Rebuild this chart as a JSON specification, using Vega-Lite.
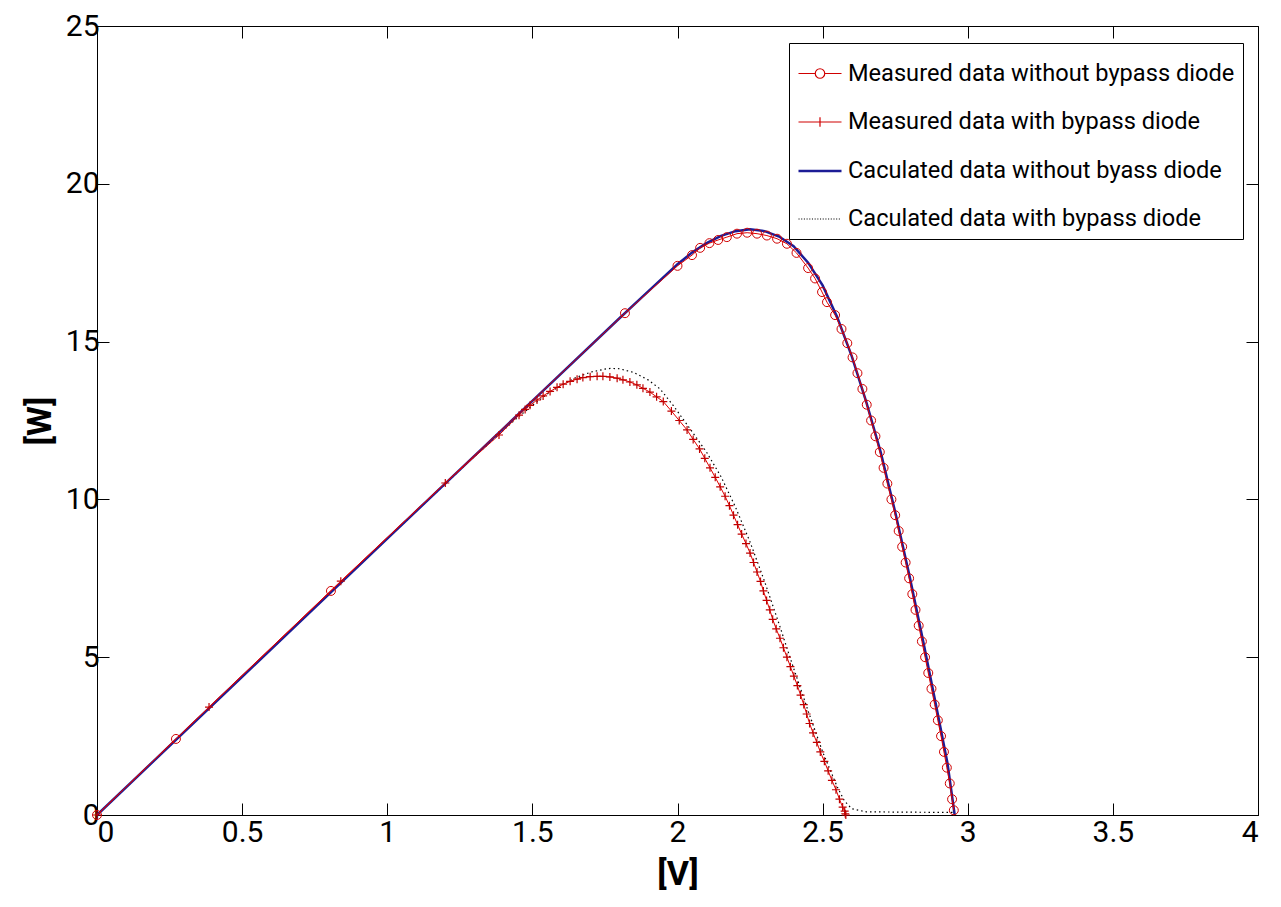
{
  "$schema": "https://vega.github.io/schema/vega-lite/v6.json",
  "width": 1161,
  "height": 789,
  "autosize": {"type": "none"},
  "padding": {"left": 97, "top": 26, "right": 23, "bottom": 92},
  "background": "white",
  "config": {
    "view": {"stroke": "black", "strokeWidth": 1},
    "axis": {
      "labelFont": "Roboto",
      "labelFontSize": 30,
      "labelColor": "black",
      "titleFont": "Roboto",
      "titleFontSize": 34,
      "titleFontWeight": "bold",
      "titleColor": "black",
      "domainColor": "black",
      "tickColor": "black",
      "tickSize": -12,
      "grid": false
    },
    "legend": {
      "orient": "none",
      "legendX": 692,
      "legendY": 17,
      "fillColor": "white",
      "strokeColor": "black",
      "padding": 8,
      "rowPadding": 13.5,
      "symbolSize": 1850,
      "symbolStrokeWidth": 1.2,
      "symbolOpacity": 1,
      "labelOffset": 5,
      "labelFont": "Roboto",
      "labelFontSize": 23.6,
      "labelColor": "black",
      "labelLimit": 600,
      "title": null
    }
  },
  "datasets": {
    "A": [
      {"series": "Measured data without bypass diode", "v": 0, "p": 0},
      {"series": "Measured data without bypass diode", "v": 0.272, "p": 2.41},
      {"series": "Measured data without bypass diode", "v": 0.806, "p": 7.1},
      {"series": "Measured data without bypass diode", "v": 1.819, "p": 15.9},
      {"series": "Measured data without bypass diode", "v": 2.0, "p": 17.4},
      {"series": "Measured data without bypass diode", "v": 2.05, "p": 17.74},
      {"series": "Measured data without bypass diode", "v": 2.078, "p": 17.97},
      {"series": "Measured data without bypass diode", "v": 2.11, "p": 18.12},
      {"series": "Measured data without bypass diode", "v": 2.14, "p": 18.22},
      {"series": "Measured data without bypass diode", "v": 2.17, "p": 18.31},
      {"series": "Measured data without bypass diode", "v": 2.205, "p": 18.42},
      {"series": "Measured data without bypass diode", "v": 2.24, "p": 18.45},
      {"series": "Measured data without bypass diode", "v": 2.274, "p": 18.42},
      {"series": "Measured data without bypass diode", "v": 2.308, "p": 18.36},
      {"series": "Measured data without bypass diode", "v": 2.343, "p": 18.26},
      {"series": "Measured data without bypass diode", "v": 2.377, "p": 18.1},
      {"series": "Measured data without bypass diode", "v": 2.41, "p": 17.81},
      {"series": "Measured data without bypass diode", "v": 2.45, "p": 17.33},
      {"series": "Measured data without bypass diode", "v": 2.474, "p": 17.0},
      {"series": "Measured data without bypass diode", "v": 2.498, "p": 16.57},
      {"series": "Measured data without bypass diode", "v": 2.515, "p": 16.25},
      {"series": "Measured data without bypass diode", "v": 2.543, "p": 15.84},
      {"series": "Measured data without bypass diode", "v": 2.565, "p": 15.4},
      {"series": "Measured data without bypass diode", "v": 2.585, "p": 14.95},
      {"series": "Measured data without bypass diode", "v": 2.603, "p": 14.5},
      {"series": "Measured data without bypass diode", "v": 2.62, "p": 14.0},
      {"series": "Measured data without bypass diode", "v": 2.637, "p": 13.5},
      {"series": "Measured data without bypass diode", "v": 2.652, "p": 13.0},
      {"series": "Measured data without bypass diode", "v": 2.667, "p": 12.5},
      {"series": "Measured data without bypass diode", "v": 2.682, "p": 12.0},
      {"series": "Measured data without bypass diode", "v": 2.697, "p": 11.5},
      {"series": "Measured data without bypass diode", "v": 2.71, "p": 11.0},
      {"series": "Measured data without bypass diode", "v": 2.723, "p": 10.5},
      {"series": "Measured data without bypass diode", "v": 2.737, "p": 10.0},
      {"series": "Measured data without bypass diode", "v": 2.75, "p": 9.5},
      {"series": "Measured data without bypass diode", "v": 2.762, "p": 9.0},
      {"series": "Measured data without bypass diode", "v": 2.774, "p": 8.5},
      {"series": "Measured data without bypass diode", "v": 2.786, "p": 8.0},
      {"series": "Measured data without bypass diode", "v": 2.798, "p": 7.5},
      {"series": "Measured data without bypass diode", "v": 2.809, "p": 7.0},
      {"series": "Measured data without bypass diode", "v": 2.82, "p": 6.5},
      {"series": "Measured data without bypass diode", "v": 2.831, "p": 6.0},
      {"series": "Measured data without bypass diode", "v": 2.842, "p": 5.5},
      {"series": "Measured data without bypass diode", "v": 2.853, "p": 5.0},
      {"series": "Measured data without bypass diode", "v": 2.864, "p": 4.5},
      {"series": "Measured data without bypass diode", "v": 2.875, "p": 4.0},
      {"series": "Measured data without bypass diode", "v": 2.886, "p": 3.5},
      {"series": "Measured data without bypass diode", "v": 2.897, "p": 3.0},
      {"series": "Measured data without bypass diode", "v": 2.908, "p": 2.5},
      {"series": "Measured data without bypass diode", "v": 2.918, "p": 2.0},
      {"series": "Measured data without bypass diode", "v": 2.928, "p": 1.5},
      {"series": "Measured data without bypass diode", "v": 2.938, "p": 1.0},
      {"series": "Measured data without bypass diode", "v": 2.946, "p": 0.5},
      {"series": "Measured data without bypass diode", "v": 2.952, "p": 0.15}
    ],
    "B": [
      {"series": "Measured data with bypass diode", "v": 0, "p": 0},
      {"series": "Measured data with bypass diode", "v": 0.386, "p": 3.42},
      {"series": "Measured data with bypass diode", "v": 0.84, "p": 7.41},
      {"series": "Measured data with bypass diode", "v": 1.2, "p": 10.52},
      {"series": "Measured data with bypass diode", "v": 1.385, "p": 12.04},
      {"series": "Measured data with bypass diode", "v": 1.454, "p": 12.67},
      {"series": "Measured data with bypass diode", "v": 1.475, "p": 12.85},
      {"series": "Measured data with bypass diode", "v": 1.492, "p": 12.98},
      {"series": "Measured data with bypass diode", "v": 1.516, "p": 13.15},
      {"series": "Measured data with bypass diode", "v": 1.537, "p": 13.28},
      {"series": "Measured data with bypass diode", "v": 1.561, "p": 13.42},
      {"series": "Measured data with bypass diode", "v": 1.585, "p": 13.55},
      {"series": "Measured data with bypass diode", "v": 1.606, "p": 13.65},
      {"series": "Measured data with bypass diode", "v": 1.63, "p": 13.74},
      {"series": "Measured data with bypass diode", "v": 1.654, "p": 13.81},
      {"series": "Measured data with bypass diode", "v": 1.674, "p": 13.86},
      {"series": "Measured data with bypass diode", "v": 1.699, "p": 13.89},
      {"series": "Measured data with bypass diode", "v": 1.723, "p": 13.9},
      {"series": "Measured data with bypass diode", "v": 1.743, "p": 13.9},
      {"series": "Measured data with bypass diode", "v": 1.767, "p": 13.88},
      {"series": "Measured data with bypass diode", "v": 1.792, "p": 13.84},
      {"series": "Measured data with bypass diode", "v": 1.812, "p": 13.79},
      {"series": "Measured data with bypass diode", "v": 1.836, "p": 13.72},
      {"series": "Measured data with bypass diode", "v": 1.86, "p": 13.63},
      {"series": "Measured data with bypass diode", "v": 1.881, "p": 13.52},
      {"series": "Measured data with bypass diode", "v": 1.905, "p": 13.4},
      {"series": "Measured data with bypass diode", "v": 1.928, "p": 13.25},
      {"series": "Measured data with bypass diode", "v": 1.951, "p": 13.1},
      {"series": "Measured data with bypass diode", "v": 1.979, "p": 12.8},
      {"series": "Measured data with bypass diode", "v": 2.006, "p": 12.5},
      {"series": "Measured data with bypass diode", "v": 2.033, "p": 12.2},
      {"series": "Measured data with bypass diode", "v": 2.054, "p": 11.9},
      {"series": "Measured data with bypass diode", "v": 2.076, "p": 11.6},
      {"series": "Measured data with bypass diode", "v": 2.094, "p": 11.3},
      {"series": "Measured data with bypass diode", "v": 2.112, "p": 11.0},
      {"series": "Measured data with bypass diode", "v": 2.13, "p": 10.7},
      {"series": "Measured data with bypass diode", "v": 2.147, "p": 10.4},
      {"series": "Measured data with bypass diode", "v": 2.164, "p": 10.1},
      {"series": "Measured data with bypass diode", "v": 2.179, "p": 9.8},
      {"series": "Measured data with bypass diode", "v": 2.193, "p": 9.5},
      {"series": "Measured data with bypass diode", "v": 2.207, "p": 9.2},
      {"series": "Measured data with bypass diode", "v": 2.221, "p": 8.9},
      {"series": "Measured data with bypass diode", "v": 2.236, "p": 8.6},
      {"series": "Measured data with bypass diode", "v": 2.25, "p": 8.3},
      {"series": "Measured data with bypass diode", "v": 2.262, "p": 8.0},
      {"series": "Measured data with bypass diode", "v": 2.274, "p": 7.7},
      {"series": "Measured data with bypass diode", "v": 2.286, "p": 7.4},
      {"series": "Measured data with bypass diode", "v": 2.296, "p": 7.1},
      {"series": "Measured data with bypass diode", "v": 2.307, "p": 6.8},
      {"series": "Measured data with bypass diode", "v": 2.318, "p": 6.5},
      {"series": "Measured data with bypass diode", "v": 2.328, "p": 6.2},
      {"series": "Measured data with bypass diode", "v": 2.34, "p": 5.9},
      {"series": "Measured data with bypass diode", "v": 2.353, "p": 5.6},
      {"series": "Measured data with bypass diode", "v": 2.365, "p": 5.3},
      {"series": "Measured data with bypass diode", "v": 2.377, "p": 5.0},
      {"series": "Measured data with bypass diode", "v": 2.389, "p": 4.7},
      {"series": "Measured data with bypass diode", "v": 2.401, "p": 4.4},
      {"series": "Measured data with bypass diode", "v": 2.413, "p": 4.1},
      {"series": "Measured data with bypass diode", "v": 2.424, "p": 3.8},
      {"series": "Measured data with bypass diode", "v": 2.435, "p": 3.5},
      {"series": "Measured data with bypass diode", "v": 2.445, "p": 3.2},
      {"series": "Measured data with bypass diode", "v": 2.455, "p": 2.9},
      {"series": "Measured data with bypass diode", "v": 2.467, "p": 2.6},
      {"series": "Measured data with bypass diode", "v": 2.48, "p": 2.3},
      {"series": "Measured data with bypass diode", "v": 2.492, "p": 2.0},
      {"series": "Measured data with bypass diode", "v": 2.506, "p": 1.7},
      {"series": "Measured data with bypass diode", "v": 2.519, "p": 1.4},
      {"series": "Measured data with bypass diode", "v": 2.532, "p": 1.1},
      {"series": "Measured data with bypass diode", "v": 2.546, "p": 0.8},
      {"series": "Measured data with bypass diode", "v": 2.558, "p": 0.5},
      {"series": "Measured data with bypass diode", "v": 2.569, "p": 0.25},
      {"series": "Measured data with bypass diode", "v": 2.576, "p": 0.12},
      {"series": "Measured data with bypass diode", "v": 2.578, "p": 0.04},
      {"series": "Measured data with bypass diode", "v": 2.58, "p": 0}
    ],
    "C": [
      {"series": "Caculated data without byass diode", "v": 0, "p": 0},
      {"series": "Caculated data without byass diode", "v": 0.5, "p": 4.38},
      {"series": "Caculated data without byass diode", "v": 1.0, "p": 8.76},
      {"series": "Caculated data without byass diode", "v": 1.5, "p": 13.12},
      {"series": "Caculated data without byass diode", "v": 1.8, "p": 15.74},
      {"series": "Caculated data without byass diode", "v": 1.9, "p": 16.6},
      {"series": "Caculated data without byass diode", "v": 2.0, "p": 17.45},
      {"series": "Caculated data without byass diode", "v": 2.05, "p": 17.82},
      {"series": "Caculated data without byass diode", "v": 2.1, "p": 18.12},
      {"series": "Caculated data without byass diode", "v": 2.15, "p": 18.35},
      {"series": "Caculated data without byass diode", "v": 2.2, "p": 18.5},
      {"series": "Caculated data without byass diode", "v": 2.25, "p": 18.56},
      {"series": "Caculated data without byass diode", "v": 2.3, "p": 18.5},
      {"series": "Caculated data without byass diode", "v": 2.35, "p": 18.33},
      {"series": "Caculated data without byass diode", "v": 2.4, "p": 18.02},
      {"series": "Caculated data without byass diode", "v": 2.45, "p": 17.5},
      {"series": "Caculated data without byass diode", "v": 2.5, "p": 16.78},
      {"series": "Caculated data without byass diode", "v": 2.55, "p": 15.78},
      {"series": "Caculated data without byass diode", "v": 2.6, "p": 14.55},
      {"series": "Caculated data without byass diode", "v": 2.65, "p": 13.1},
      {"series": "Caculated data without byass diode", "v": 2.7, "p": 11.5},
      {"series": "Caculated data without byass diode", "v": 2.75, "p": 9.6},
      {"series": "Caculated data without byass diode", "v": 2.8, "p": 7.55},
      {"series": "Caculated data without byass diode", "v": 2.85, "p": 5.35},
      {"series": "Caculated data without byass diode", "v": 2.9, "p": 3.05},
      {"series": "Caculated data without byass diode", "v": 2.93, "p": 1.65},
      {"series": "Caculated data without byass diode", "v": 2.955, "p": 0}
    ],
    "D": [
      {"series": "Caculated data with bypass diode", "v": 0, "p": 0},
      {"series": "Caculated data with bypass diode", "v": 0.5, "p": 4.38},
      {"series": "Caculated data with bypass diode", "v": 1.0, "p": 8.76},
      {"series": "Caculated data with bypass diode", "v": 1.3, "p": 11.36},
      {"series": "Caculated data with bypass diode", "v": 1.45, "p": 12.6},
      {"series": "Caculated data with bypass diode", "v": 1.5, "p": 12.98},
      {"series": "Caculated data with bypass diode", "v": 1.55, "p": 13.33},
      {"series": "Caculated data with bypass diode", "v": 1.6, "p": 13.62},
      {"series": "Caculated data with bypass diode", "v": 1.65, "p": 13.86},
      {"series": "Caculated data with bypass diode", "v": 1.7, "p": 14.03},
      {"series": "Caculated data with bypass diode", "v": 1.75, "p": 14.13},
      {"series": "Caculated data with bypass diode", "v": 1.77, "p": 14.15},
      {"series": "Caculated data with bypass diode", "v": 1.8, "p": 14.14},
      {"series": "Caculated data with bypass diode", "v": 1.85, "p": 14.02},
      {"series": "Caculated data with bypass diode", "v": 1.9, "p": 13.78},
      {"series": "Caculated data with bypass diode", "v": 1.94, "p": 13.5},
      {"series": "Caculated data with bypass diode", "v": 1.985, "p": 12.98},
      {"series": "Caculated data with bypass diode", "v": 2.05, "p": 12.15},
      {"series": "Caculated data with bypass diode", "v": 2.1, "p": 11.5},
      {"series": "Caculated data with bypass diode", "v": 2.15, "p": 10.72},
      {"series": "Caculated data with bypass diode", "v": 2.2, "p": 9.75},
      {"series": "Caculated data with bypass diode", "v": 2.25, "p": 8.65},
      {"series": "Caculated data with bypass diode", "v": 2.3, "p": 7.4},
      {"series": "Caculated data with bypass diode", "v": 2.35, "p": 6.05},
      {"series": "Caculated data with bypass diode", "v": 2.4, "p": 4.65},
      {"series": "Caculated data with bypass diode", "v": 2.45, "p": 3.3},
      {"series": "Caculated data with bypass diode", "v": 2.5, "p": 2.0},
      {"series": "Caculated data with bypass diode", "v": 2.55, "p": 0.9},
      {"series": "Caculated data with bypass diode", "v": 2.575, "p": 0.45},
      {"series": "Caculated data with bypass diode", "v": 2.6, "p": 0.2},
      {"series": "Caculated data with bypass diode", "v": 2.65, "p": 0.1},
      {"series": "Caculated data with bypass diode", "v": 2.95, "p": 0.08},
      {"series": "Caculated data with bypass diode", "v": 2.955, "p": 0}
    ],
    "legendRows": [
      {"series": "Measured data without bypass diode"},
      {"series": "Measured data with bypass diode"},
      {"series": "Caculated data without byass diode"},
      {"series": "Caculated data with bypass diode"}
    ]
  },
  "layer": [
    {
      "data": {"name": "D"},
      "mark": {"type": "line", "color": "black", "strokeWidth": 1.2, "strokeDash": [1.5, 3]},
      "encoding": {
        "x": {"field": "v", "type": "quantitative", "scale": {"domain": [0, 4], "nice": false}, "title": "[V]",
              "axis": {"orient": "bottom", "values": [0, 0.5, 1, 1.5, 2, 2.5, 3, 3.5, 4], "labelPadding": 14, "titlePadding": 10, "format": "~g"}},
        "y": {"field": "p", "type": "quantitative", "scale": {"domain": [0, 25], "nice": false}, "title": "[W]",
              "axis": {"orient": "left", "values": [0, 5, 10, 15, 20, 25], "labelPadding": 10, "titlePadding": 8}}
      }
    },
    {
      "data": {"name": "C"},
      "mark": {"type": "line", "color": "#1c1c96", "strokeWidth": 2.5},
      "encoding": {
        "x": {"field": "v", "type": "quantitative", "axis": {"orient": "top", "labels": false, "title": null, "domain": false, "values": [0, 0.5, 1, 1.5, 2, 2.5, 3, 3.5, 4]}},
        "y": {"field": "p", "type": "quantitative", "axis": {"orient": "right", "labels": false, "title": null, "domain": false, "values": [0, 5, 10, 15, 20, 25]}}
      }
    },
    {
      "data": {"name": "A"},
      "mark": {"type": "line", "color": "#e00000", "strokeWidth": 1},
      "encoding": {
        "x": {"field": "v", "type": "quantitative", "axis": null},
        "y": {"field": "p", "type": "quantitative", "axis": null}
      }
    },
    {
      "data": {"name": "A"},
      "mark": {"type": "point", "shape": "circle", "filled": false, "color": "#d00000", "size": 80, "strokeWidth": 1, "opacity": 1},
      "encoding": {
        "x": {"field": "v", "type": "quantitative", "axis": null},
        "y": {"field": "p", "type": "quantitative", "axis": null}
      }
    },
    {
      "data": {"name": "B"},
      "mark": {"type": "line", "color": "#e00000", "strokeWidth": 1},
      "encoding": {
        "x": {"field": "v", "type": "quantitative", "axis": null},
        "y": {"field": "p", "type": "quantitative", "axis": null}
      }
    },
    {
      "data": {"name": "B"},
      "mark": {"type": "point", "shape": "M-1,0L1,0M0,-1L0,1", "filled": false, "color": "#c00000", "size": 64, "strokeWidth": 1.2, "opacity": 1},
      "encoding": {
        "x": {"field": "v", "type": "quantitative", "axis": null},
        "y": {"field": "p", "type": "quantitative", "axis": null}
      }
    },
    {
      "data": {"name": "legendRows"},
      "mark": {"type": "point", "filled": false, "size": 0},
      "encoding": {
        "shape": {
          "field": "series", "type": "nominal",
          "scale": {
            "domain": ["Measured data without bypass diode", "Measured data with bypass diode", "Caculated data without byass diode", "Caculated data with bypass diode"],
            "range": [
              "M-1,0L-0.22,0M0.22,0L1,0M-0.22,0A0.22,0.22 0 1 0 0.22,0A0.22,0.22 0 1 0 -0.22,0",
              "M-1,0L1,0M0,-0.22L0,0.22",
              "M-1,0L1,0",
              "M-1,0L-0.95,0M-0.875,0L-0.825,0M-0.75,0L-0.7,0M-0.625,0L-0.575,0M-0.5,0L-0.45,0M-0.375,0L-0.325,0M-0.25,0L-0.2,0M-0.125,0L-0.075,0M0,0L0.05,0M0.125,0L0.175,0M0.25,0L0.3,0M0.375,0L0.425,0M0.5,0L0.55,0M0.625,0L0.675,0M0.75,0L0.8,0M0.875,0L0.925,0"
            ]
          },
          "legend": {}
        },
        "color": {
          "field": "series", "type": "nominal",
          "scale": {
            "domain": ["Measured data without bypass diode", "Measured data with bypass diode", "Caculated data without byass diode", "Caculated data with bypass diode"],
            "range": ["#d00000", "#d00000", "#1c1c96", "black"]
          },
          "legend": {}
        },
        "strokeWidth": {
          "field": "series", "type": "nominal",
          "scale": {
            "type": "ordinal",
            "domain": ["Measured data without bypass diode", "Measured data with bypass diode", "Caculated data without byass diode", "Caculated data with bypass diode"],
            "range": [1.2, 1.2, 2.5, 1.2]
          },
          "legend": {}
        }
      }
    }
  ],
  "resolve": {"axis": {"x": "independent", "y": "independent"}}
}
